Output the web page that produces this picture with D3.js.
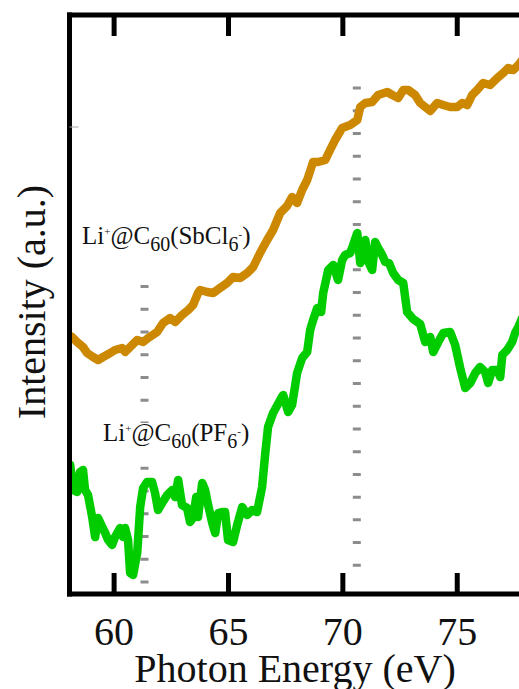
<!DOCTYPE html>
<html>
<head>
<meta charset="utf-8">
<script src="https://cdn.jsdelivr.net/npm/d3@7"></script>
<style>
  body { margin: 0; background: #fff; }
  text { font-family: "Liberation Serif", "Times New Roman", serif; }
</style>
</head>
<body>
<script>
// Énergies (eV) et intensités (u.a.)
const energySb = [57.99, 58.08, 58.16, 58.38, 58.64, 58.82, 59.08, 59.30, 59.52, 59.83, 60.04, 60.35, 60.48, 60.70, 61.01, 61.27, 61.49, 61.88, 62.14, 62.45, 62.67, 62.97, 63.24, 63.45, 63.67, 63.76, 64.07, 64.33, 64.63, 64.94, 65.20, 65.51, 65.82, 66.08, 66.38, 66.69, 66.95, 67.26, 67.56, 67.78, 68.00, 68.22, 68.44, 68.70, 68.92, 69.23, 69.44, 69.66, 69.97, 70.32, 70.63, 70.76, 70.98, 71.28, 71.54, 71.94, 72.16, 72.42, 72.64, 72.86, 73.16, 73.38, 73.60, 73.82, 74.12, 74.39, 74.69, 75.00, 75.22, 75.44, 75.65, 75.87, 76.13, 76.44, 76.75, 77.01, 77.23, 77.45, 77.67, 77.84];
const intensitySb = [254, 258, 257, 252, 247, 241, 237, 234, 237, 241, 244, 246, 242, 247, 254, 252, 256, 262, 271, 276, 272, 279, 284, 289, 301, 304, 302, 301, 306, 311, 317, 316, 321, 327, 341, 354, 364, 381, 388, 397, 391, 404, 414, 432, 432, 434, 444, 454, 466, 469, 474, 487, 491, 492, 499, 502, 499, 496, 504, 504, 499, 491, 487, 483, 491, 489, 487, 487, 491, 489, 499, 504, 511, 509, 516, 521, 526, 524, 529, 534];

const energyPF = [57.95, 58.08, 58.21, 58.38, 58.51, 58.64, 58.73, 58.86, 59.04, 59.17, 59.30, 59.48, 59.61, 59.74, 59.91, 60.04, 60.26, 60.39, 60.48, 60.61, 60.70, 60.83, 61.01, 61.14, 61.27, 61.44, 61.66, 61.79, 61.92, 62.10, 62.32, 62.54, 62.67, 62.80, 62.97, 63.19, 63.32, 63.45, 63.59, 63.67, 63.85, 63.98, 64.11, 64.29, 64.42, 64.55, 64.72, 64.85, 64.98, 65.20, 65.38, 65.60, 65.82, 66.03, 66.25, 66.47, 66.60, 66.73, 66.95, 67.26, 67.39, 67.61, 67.78, 68.00, 68.22, 68.44, 68.57, 68.70, 68.88, 69.05, 69.14, 69.36, 69.58, 69.79, 69.97, 70.10, 70.32, 70.45, 70.63, 70.76, 70.98, 71.11, 71.28, 71.41, 71.54, 71.72, 71.85, 72.02, 72.20, 72.42, 72.64, 72.81, 73.07, 73.38, 73.60, 73.82, 73.95, 74.17, 74.39, 74.69, 74.91, 75.13, 75.35, 75.57, 75.79, 76.00, 76.22, 76.35, 76.53, 76.75, 76.88, 76.97, 77.18, 77.40, 77.53, 77.67, 77.84];
const intensityPF = [129, 129, 104, 102, 122, 124, 104, 99, 77, 57, 76, 67, 61, 54, 49, 57, 66, 57, 66, 54, 21, 19, 41, 87, 106, 112, 112, 101, 84, 91, 99, 104, 97, 114, 89, 86, 72, 76, 97, 77, 111, 104, 89, 71, 61, 81, 82, 82, 54, 52, 69, 87, 79, 84, 82, 107, 139, 167, 181, 194, 199, 182, 189, 221, 236, 242, 264, 274, 286, 282, 301, 324, 329, 314, 334, 339, 341, 349, 361, 331, 354, 332, 324, 352, 346, 339, 332, 331, 321, 314, 311, 282, 275, 270, 252, 257, 242, 252, 261, 262, 249, 226, 206, 211, 221, 227, 222, 211, 224, 224, 217, 239, 244, 252, 261, 267, 276];

// Lignes pointillées verticales
const markerEnergy = [61.33, 70.61];
const markerTop = [309, 507.5];
const markerBottom = [10, 26];

const xTicks = [60, 65, 70, 75];
const xDomain = [58.05, 77.7];
const yDomain = [0, 579];

const labelSb = [["Li", "n"], ["+", "sup"], ["@C", "n"], ["60", "sub"], ["(SbCl", "n"], ["6", "sub"], ["-", "subsup"], [")", "n"]];
const labelPF = [["Li", "n"], ["+", "sup"], ["@C", "n"], ["60", "sub"], ["(PF", "n"], ["6", "sub"], ["-", "subsup"], [")", "n"]];

const margin = {top: 15, right: 0, bottom: 95, left: 69.5};
const width = 519 - margin.left - margin.right;
const height = 689 - margin.top - margin.bottom;

const svg = d3.select("body").append("svg")
    .attr("width", 519)
    .attr("height", 689)
    .append("g")
    .attr("transform", `translate(${margin.left},${margin.top})`);

const xScale = d3.scaleLinear().domain(xDomain).range([0, width]);
const yScale = d3.scaleLinear().domain(yDomain).range([height, 0]);

svg.append("clipPath").attr("id", "clip")
    .append("rect").attr("x", -2).attr("y", -5).attr("width", width + 20).attr("height", height + 10);

// Pointillés
markerEnergy.forEach((e, i) => {
    svg.append("line")
        .attr("x1", xScale(e)).attr("x2", xScale(e))
        .attr("y1", yScale(markerTop[i])).attr("y2", yScale(markerBottom[i]))
        .attr("stroke", "#8c8c8c")
        .attr("stroke-width", 8)
        .attr("stroke-dasharray", "3,19.73");
});

// Courbes
const line = d3.line()
    .x(d => xScale(d[0]))
    .y(d => yScale(d[1]))
    .curve(d3.curveLinear);

const curves = [
    {e: energySb, v: intensitySb, color: "#cc8800"},
    {e: energyPF, v: intensityPF, color: "#00cc00"}
];
curves.forEach(c => {
    svg.append("path")
        .datum(c.e.map((e, i) => [e, c.v[i]]))
        .attr("clip-path", "url(#clip)")
        .attr("d", line)
        .attr("fill", "none")
        .attr("stroke", c.color)
        .attr("stroke-width", 8.5)
        .attr("stroke-linejoin", "round")
        .attr("stroke-linecap", "round");
});

// Étiquettes des échantillons
function drawLabel(parts, x, y) {
    const g = svg.append("g");
    const bg = g.append("rect").attr("fill", "#fff");
    const t = g.append("text").attr("x", x).attr("y", y).attr("font-size", 25).attr("fill", "#111");
    let shift = 0;
    parts.forEach(([s, kind]) => {
        let target = 0, size = 25;
        if (kind === "sup") { target = -9; size = 11; }
        if (kind === "sub") { target = 7; size = 20; }
        if (kind === "subsup") { target = -6; size = 11; }
        t.append("tspan").attr("dy", target - shift).attr("font-size", size).text(s);
        shift = target;
    });
    const b = t.node().getBBox();
    bg.attr("x", b.x - 2).attr("y", b.y + 4).attr("width", b.width + 4).attr("height", b.height - 2);
}
drawLabel(labelSb, 82 - margin.left, 244 - margin.top);
drawLabel(labelPF, 103 - margin.left, 441 - margin.top);

// Axes
const spine = 5;
svg.append("line").attr("x1", -spine / 2).attr("x2", width + 5).attr("y1", 0).attr("y2", 0)
    .attr("stroke", "#000").attr("stroke-width", spine);
svg.append("line").attr("x1", -spine / 2).attr("x2", width + 5).attr("y1", height).attr("y2", height)
    .attr("stroke", "#000").attr("stroke-width", spine);
svg.append("line").attr("x1", 0).attr("x2", 0).attr("y1", -spine / 2).attr("y2", height + spine / 2)
    .attr("stroke", "#000").attr("stroke-width", spine);

// Graduations vers l'intérieur, en haut et en bas
svg.selectAll(".tickTop").data(xTicks).join("line")
    .attr("x1", d => xScale(d)).attr("x2", d => xScale(d))
    .attr("y1", 0).attr("y2", 21)
    .attr("stroke", "#000").attr("stroke-width", 5);
svg.selectAll(".tickBottom").data(xTicks).join("line")
    .attr("x1", d => xScale(d)).attr("x2", d => xScale(d))
    .attr("y1", height).attr("y2", height - 21)
    .attr("stroke", "#000").attr("stroke-width", 5);

svg.append("line").attr("x1", 0).attr("x2", 9).attr("y1", yScale(467)).attr("y2", yScale(467))
    .attr("stroke", "#aaa").attr("stroke-width", 1);

svg.selectAll(".tickLabel").data(xTicks).join("text")
    .attr("x", d => xScale(d))
    .attr("y", height + 51)
    .attr("text-anchor", "middle")
    .attr("font-size", 40)
    .attr("fill", "#111")
    .text(d => d);

svg.append("text")
    .attr("x", 295 - margin.left)
    .attr("y", 682 - margin.top)
    .attr("text-anchor", "middle")
    .attr("font-size", 40)
    .attr("fill", "#111")
    .text("Photon Energy (eV)");

svg.append("text")
    .attr("transform", `translate(${45 - margin.left},${302 - margin.top}) rotate(-90)`)
    .attr("text-anchor", "middle")
    .attr("font-size", 40)
    .attr("fill", "#111")
    .text("Intensity (a.u.)");
</script>
</body>
</html>
